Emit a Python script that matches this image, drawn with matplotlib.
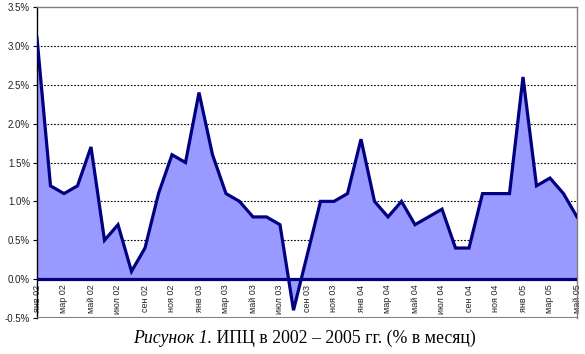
import matplotlib
matplotlib.use('Agg')
import matplotlib.pyplot as plt

# monthly CPI, Jan 2002 - May 2005 (% per month)
cpi_2002 = [3.1, 1.2, 1.1, 1.2, 1.7, 0.5, 0.7, 0.1, 0.4, 1.1, 1.6, 1.5]
cpi_2003 = [2.4, 1.6, 1.1, 1.0, 0.8, 0.8, 0.7, -0.4, 0.3, 1.0, 1.0, 1.1]
cpi_2004 = [1.8, 1.0, 0.8, 1.0, 0.7, 0.8, 0.9, 0.4, 0.4, 1.1, 1.1, 1.1]
cpi_2005 = [2.6, 1.2, 1.3, 1.1, 0.8]
month_names = ['янв', 'мар', 'май', 'июл', 'сен', 'ноя']
years = ['02', '03', '04', '05']
y_ticks = [-0.5, 0.0, 0.5, 1.0, 1.5, 2.0, 2.5, 3.0, 3.5]

values = cpi_2002 + cpi_2003 + cpi_2004 + cpi_2005
x = list(range(len(values)))
tick_pos = x[::2]
tick_labels = []
for yr in years:
    for m in month_names:
        tick_labels.append(m + ' ' + yr)
tick_labels = tick_labels[:len(tick_pos)]

fig = plt.figure(figsize=(5.85, 3.54), dpi=100)
ax = fig.add_axes([37 / 585, 1 - 318 / 354, 540 / 585, 311 / 354])

ax.fill_between(x, values, 0, color='#9999ff', lw=0, zorder=2)
ax.plot(x, values, color='#000080', lw=2.3, zorder=4, solid_joinstyle='miter')
ax.axhline(0, color='#000080', lw=2.3, zorder=3)

ax.set_xlim(0, len(values) - 1)
ax.set_ylim(-0.5, 3.5)

# dotted gridlines behind the area
for v in y_ticks[2:-1]:
    ax.axhline(v, color='black', lw=0.8, ls=(0, (1.5, 1.5)), zorder=1)

ax.set_yticks(y_ticks)
ax.set_yticklabels(['%.1f%%' % v for v in y_ticks], fontsize=7,
                   family='Liberation Sans', color='#222222')
ax.tick_params(axis='y', length=3, width=0.8, pad=2)

# category axis crosses at zero
ax.spines['bottom'].set_position(('data', 0))
ax.spines['bottom'].set_visible(False)
ax.set_xticks(tick_pos)
ax.set_xticklabels(tick_labels, rotation=90, fontsize=6.5,
                   family='Liberation Sans', color='#222222')
ax.tick_params(axis='x', length=0, pad=4)

ax.spines['left'].set_color('black')
ax.spines['left'].set_linewidth(1.0)
for s in ['top', 'right']:
    ax.spines[s].set_color('#808080')
    ax.spines[s].set_linewidth(1.0)
ax.axhline(-0.5, color='#808080', lw=1.5, zorder=5)

t1 = fig.text(133 / 585, 1 - 343 / 354, 'Рисунок 1.', fontsize=12.8,
              family='Liberation Serif', style='italic', va='baseline')
ax.annotate(' ИПЦ в 2002 – 2005 гг. (% в месяц)', xy=(1, 0), xycoords=t1,
            va='bottom', ha='left', fontsize=12.8, family='Liberation Serif',
            annotation_clip=False)

fig.savefig('out.png', dpi=100)
